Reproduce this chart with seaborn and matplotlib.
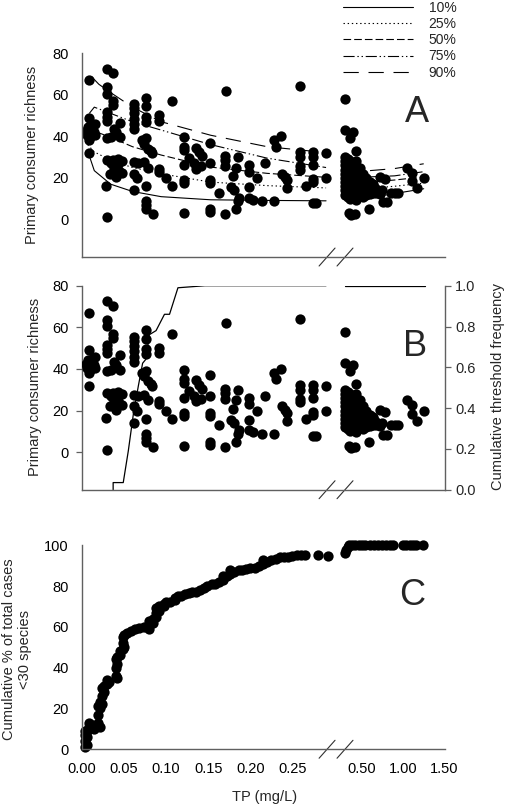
import numpy as np
import matplotlib
matplotlib.use("Agg")
import matplotlib.pyplot as plt
import seaborn as sns

# ---- scatter data (panels A and B share it): TP (mg/L) vs primary consumer richness
tp_pts = [0.008, 0.008, 0.007, 0.008, 0.006, 0.008, 0.008, 0.012, 0.011, 0.015, 0.014, 0.015, 0.005, 0.012,
          0.030, 0.037, 0.030, 0.030, 0.037, 0.037, 0.030, 0.030, 0.030, 0.045, 0.038, 0.034, 0.030, 0.045,
          0.040, 0.030, 0.037, 0.043, 0.034, 0.043, 0.047, 0.033, 0.040, 0.044, 0.047, 0.038, 0.028, 0.030,
          0.062, 0.062, 0.062, 0.062, 0.062, 0.062, 0.066, 0.062, 0.062, 0.065, 0.062, 0.076, 0.076, 0.076,
          0.076, 0.071, 0.074, 0.076, 0.079, 0.082, 0.083, 0.074, 0.078, 0.076, 0.076, 0.076, 0.076, 0.084,
          0.091, 0.091, 0.107, 0.092, 0.091, 0.100, 0.107, 0.121, 0.121, 0.121, 0.121, 0.121, 0.121, 0.121,
          0.127, 0.136, 0.139, 0.143, 0.133, 0.135, 0.141,
          0.152, 0.152, 0.152, 0.152, 0.152, 0.152, 0.171, 0.163, 0.170, 0.170, 0.170, 0.170, 0.179, 0.177,
          0.181, 0.185, 0.183, 0.187, 0.185, 0.183, 0.199, 0.199, 0.199, 0.199, 0.203, 0.208, 0.214, 0.218,
          0.228, 0.228, 0.230, 0.236, 0.238, 0.241, 0.243, 0.243, 0.259, 0.259, 0.259, 0.259, 0.259, 0.266,
          0.275, 0.275, 0.275, 0.275, 0.275, 0.275, 0.278, 0.290, 0.290,
          0.31, 0.31, 0.40, 0.37, 0.44, 0.35, 0.38, 0.42, 0.59, 0.73, 0.79, 0.67, 0.75, 0.76, 0.81, 0.86,
          0.90, 0.94, 1.05, 1.11, 1.11, 1.25, 1.17,
          0.31, 0.31, 0.31, 0.31, 0.31, 0.31, 0.31, 0.31, 0.31, 0.31,
          0.34, 0.34, 0.34, 0.34, 0.34, 0.34, 0.34, 0.34, 0.34, 0.34,
          0.37, 0.37, 0.37, 0.37, 0.37, 0.37, 0.37, 0.37, 0.37, 0.37,
          0.40, 0.40, 0.40, 0.40, 0.40, 0.40, 0.40, 0.40, 0.40,
          0.44, 0.44, 0.44, 0.44, 0.44, 0.44, 0.44, 0.44,
          0.48, 0.48, 0.48, 0.48, 0.48, 0.48,
          0.52, 0.52, 0.52, 0.52, 0.52,
          0.56, 0.56, 0.56, 0.56, 0.60, 0.60, 0.60, 0.64, 0.64, 0.68, 0.72]
rich_pts = [67, 49, 44.5, 42, 40.5, 38, 32, 43, 40, 46, 42, 40.5, 42.5, 45,
            72.5, 70.5, 63.5, 60.5, 57, 55, 51.5, 49.5, 47.5, 46.5, 43.5, 39.5, 39, 39.5,
            42, 28.5, 28.5, 29, 27, 26.5, 28, 22, 20.5, 23.5, 22.5, 25, 16.3, 1.2,
            55.5, 53.5, 51, 48.5, 46, 43.5, 27, 27.5, 22, 20, 14, 58.5, 54.5, 49.5,
            47, 38, 36.5, 39, 34, 33, 32, 27.5, 25, 16, 9, 7, 5, 2.5,
            50, 47.5, 57, 24.5, 23, 20, 16.2, 39.5, 35, 33.5, 26, 19, 17.5, 3,
            29.5, 34.5, 32.5, 30.5, 27, 24.5, 25.5,
            37, 27, 19, 17.5, 5, 3.5, 62, 13, 30.5, 28.5, 25.5, 2.5, 21, 15.5,
            14, 30, 25, 10.5, 9, 5, 26, 23, 15.5, 10.5, 9.5, 20, 9, 27,
            9, 38, 35, 40, 22, 20.5, 19, 15, 64, 32.5, 30, 25.5, 24, 16,
            32.5, 30, 26, 19.5, 18, 8, 8, 32, 20,
            58, 43, 42, 39, 33, 3, 2, 2.5, 5, 20.5, 19.5, 15, 14, 8.3, 8.3, 13,
            13, 13, 25, 22.5, 18.5, 20, 15,
            30, 28, 26, 24, 22, 20, 18, 16, 14, 12,
            29, 27, 25, 23, 21, 19, 17, 15, 13, 11,
            28, 26, 24, 22, 20, 18, 16, 14, 12, 10,
            27, 25, 23, 21, 19, 17, 15, 13, 11,
            28, 25, 22, 19, 16, 13, 11, 9.5,
            25, 23, 20, 17, 14, 12,
            22, 19, 16, 13, 11,
            20, 17, 14, 12, 18, 14, 12.5, 13, 17, 13, 12.5]

# ---- quantile curves (panel A), left and right of the axis break
q_labels = ["10%", "25%", "50%", "75%", "90%"]
q_tp_left = [[0.0067, 0.0146, 0.034, 0.06, 0.094, 0.153, 0.22, 0.29],
             [0.0067, 0.0146, 0.034, 0.06, 0.094, 0.153, 0.22, 0.29],
             [0.0067, 0.0146, 0.034, 0.06, 0.094, 0.153, 0.22, 0.29],
             [0.0087, 0.0146, 0.034, 0.06, 0.094, 0.153, 0.22, 0.29],
             [0.0115, 0.02, 0.034, 0.06, 0.094, 0.153, 0.22, 0.29]]
q_val_left = [[33, 23.5, 17, 13.5, 11, 9.5, 9.2, 9],
              [36, 32.5, 28.5, 25, 22, 18, 16.3, 15.2],
              [44.5, 42.5, 39.5, 35, 31, 25.2, 22.2, 20.3],
              [51, 54, 51, 47, 43, 36, 29.5, 25],
              [68.6, 65, 61, 54, 47, 40.5, 35, 32.2]]
q_tp_right = [0.305, 0.6, 0.9, 1.25]
q_val_right = [[9, 10.5, 12.5, 14.8],
               [14.5, 15, 16, 17.5],
               [18, 18, 19, 20.5],
               [21, 20.5, 21, 23],
               [24, 23.5, 24.5, 26.8]]

# ---- cumulative threshold frequency (panel B)
thr_tp_left = [0.037, 0.037, 0.049, 0.055, 0.061, 0.067, 0.072, 0.076, 0.080, 0.088, 0.098, 0.104,
               0.114, 0.130, 0.146, 0.290]
thr_freq_left = [0.0, 0.035, 0.035, 0.19, 0.37, 0.51, 0.62, 0.64, 0.76, 0.78, 0.86, 0.86,
                 0.99, 0.995, 1.0, 1.0]
thr_tp_right = [0.305, 1.26]
thr_freq_right = [1.0, 1.0]

# ---- cumulative % of cases with <30 species (panel C)
c_tp = [0.003, 0.003, 0.003, 0.003, 0.006, 0.006, 0.006, 0.008, 0.008, 0.012, 0.014, 0.014,
        0.019, 0.019, 0.019, 0.021, 0.021, 0.021, 0.024, 0.024, 0.024, 0.026, 0.026, 0.030, 0.030,
        0.032, 0.040, 0.040, 0.040, 0.042, 0.042, 0.042, 0.045, 0.045, 0.049, 0.049, 0.049,
        0.050, 0.050, 0.053, 0.058, 0.063, 0.068, 0.074, 0.080, 0.080, 0.080, 0.084, 0.084,
        0.088, 0.088, 0.088, 0.092, 0.092, 0.097, 0.097, 0.100, 0.105, 0.110, 0.110, 0.114,
        0.118, 0.122, 0.127, 0.131, 0.136, 0.140, 0.145, 0.149, 0.154, 0.158, 0.163, 0.168,
        0.168, 0.172, 0.176, 0.176, 0.181, 0.186, 0.190, 0.195, 0.200, 0.205, 0.210, 0.215,
        0.215, 0.220, 0.225, 0.230, 0.235, 0.240, 0.245, 0.250, 0.255, 0.260, 0.265, 0.280,
        0.292, 0.305, 0.32, 0.34, 0.355, 0.39, 0.43, 0.47, 0.51, 0.55, 0.60, 0.65, 0.70, 0.75,
        0.80, 0.85, 0.88, 1.00, 1.04, 1.08, 1.12, 1.16, 1.24]
c_pct = [1, 4, 7, 9, 2, 6, 9, 11, 13, 12, 10, 11,
         13, 17, 21, 11, 20, 23, 22, 26, 30, 28, 31, 32, 34,
         33, 36, 40, 44, 35, 42, 45, 46, 48, 49, 52, 55,
         50, 56, 57, 58, 59, 59.5, 60, 59, 61, 63, 62, 64,
         65, 67, 69, 68, 70, 70, 71, 72, 72, 73, 74, 75,
         75, 76, 76.5, 77, 77, 78, 79, 80, 81, 81, 82, 83,
         85, 85, 86, 88, 87, 88, 88, 88.5, 89, 89, 90, 91,
         93, 92, 93, 93.5, 94, 94, 94, 94.5, 95, 95, 95, 95,
         94.8, 96, 97.5, 99, 100, 100, 100, 100, 100, 100, 100, 100, 100, 100,
         100, 100, 100, 100, 100, 100, 100, 100, 100]

ab_ticks = [0, 0.076, 0.152, 0.228, 0.572, 1.032, 1.5]
c_ticks = [0, 0.05, 0.10, 0.15, 0.20, 0.25, 0.50, 1.00, 1.50]
c_ticklabels = ["0.00", "0.05", "0.10", "0.15", "0.20", "0.25", "0.50", "1.00", "1.50"]


# broken TP axis: 0-0.295 stretched, 0.305-1.5 compressed
_x_knots = [-1, 0, 0.295, 0.305, 1.5, 3]
_u_knots = [-842.7, 0, 248.6, 263.4, 363, 487.9]


def tp_fwd(x):
    return np.interp(x, _x_knots, _u_knots)


def tp_inv(u):
    return np.interp(u, _u_knots, _x_knots)


sns.set_theme(style="white")
plt.rcParams["font.family"] = ["Liberation Sans", "DejaVu Sans"]
plt.rcParams["lines.scale_dashes"] = False

AX_COL = "#606060"
FS = 10.5
styles = ["-", (0, (1, 2)), (0, (5.5, 2.2)), (0, (8, 2, 1, 2, 1, 2)), (0, (11, 7))]


def style_axis(ax):
    ax.set_xscale("function", functions=(tp_fwd, tp_inv))
    ax.set_xlim(0, 1.5)
    for s in ["top", "right"]:
        ax.spines[s].set_visible(False)
    for s in ["left", "bottom"]:
        ax.spines[s].set_color(AX_COL)
        ax.spines[s].set_linewidth(1)
    ax.tick_params(direction="out", length=4, width=0.9, color=AX_COL,
                   labelsize=FS, labelcolor="black", pad=5.5)
    # break marks
    for xc in [0.676, 0.7255]:
        ax.plot([xc - 0.022, xc + 0.022], [-0.044, 0.044], color="#303030", lw=0.8,
                transform=ax.transAxes, clip_on=False)


fig = plt.figure(figsize=(5.1, 8.06), dpi=100)
L, W, H = 0.1608, 0.7108, 0.2531
axA = fig.add_axes([L, 0.6811, W, H])
axB = fig.add_axes([L, 0.3924, W, H])
axC = fig.add_axes([L, 0.0704, W, H])

# ---- panel A
sns.scatterplot(x=tp_pts, y=rich_pts, ax=axA, color="black", s=55, linewidth=0, zorder=2)
handles = []
for i, lab in enumerate(q_labels):
    ln, = axA.plot(q_tp_left[i], q_val_left[i], color="black", lw=0.8, ls=styles[i], label=lab, zorder=3)
    axA.plot(q_tp_right, q_val_right[i], color="black", lw=0.8, ls=styles[i], zorder=3)
    handles.append(ln)
style_axis(axA)
axA.set_ylim(-18, 80)
axA.set_yticks([0, 20, 40, 60, 80])
axA.set_xticks(ab_ticks)
axA.set_xticklabels([])
axA.set_ylabel("Primary consumer richness", fontsize=FS, va="center")
axA.yaxis.set_label_coords(-0.139, 0.5)
axA.text(0.925, 0.71, "A", transform=axA.transAxes, fontsize=26, ha="center", va="center")
fig.legend(handles=handles, labels=q_labels, loc="upper left", bbox_to_anchor=(0.673, 0.999),
           frameon=False, fontsize=10, handlelength=5.0, handletextpad=1.15,
           labelspacing=0.16, borderpad=0, borderaxespad=0)

# ---- panel B
sns.scatterplot(x=tp_pts, y=rich_pts, ax=axB, color="black", s=55, linewidth=0, zorder=3)
style_axis(axB)
axB.set_ylim(-18, 80)
axB.set_yticks([0, 20, 40, 60, 80])
axB.set_xticks(ab_ticks)
axB.set_xticklabels([])
axB.set_ylabel("Primary consumer richness", fontsize=FS, va="center")
axB.yaxis.set_label_coords(-0.13, 0.505)
axB.text(0.92, 0.7, "B", transform=axB.transAxes, fontsize=26, ha="center", va="center")
axB2 = axB.twinx()
axB2.plot(thr_tp_left, thr_freq_left, color="black", lw=0.9)
axB2.plot(thr_tp_right, thr_freq_right, color="black", lw=0.9)
axB2.set_ylim(0, 1)
axB2.set_yticks([0, 0.2, 0.4, 0.6, 0.8, 1.0])
axB2.set_yticklabels(["0.0", "0.2", "0.4", "0.6", "0.8", "1.0"])
for s in ["top", "left", "bottom"]:
    axB2.spines[s].set_visible(False)
axB2.spines["right"].set_color(AX_COL)
axB2.spines["right"].set_linewidth(1)
axB2.tick_params(direction="out", length=4, width=0.9, color=AX_COL, labelsize=FS, pad=3.5)
axB2.set_ylabel("Cumulative threshold frequency", fontsize=FS, va="center")
axB2.yaxis.set_label_coords(1.147, 0.505)
axB.set_zorder(axB2.get_zorder() + 1)
axB.patch.set_visible(False)

# ---- panel C
sns.scatterplot(x=c_tp, y=c_pct, ax=axC, color="black", s=55, linewidth=0, clip_on=False)
style_axis(axC)
axC.set_ylim(0, 100)
axC.set_yticks([0, 20, 40, 60, 80, 100])
axC.set_xticks(c_ticks)
axC.set_xticklabels(c_ticklabels)
axC.set_ylabel("Cumulative % of total cases\n<30 species", fontsize=FS, va="center", linespacing=1.15)
axC.yaxis.set_label_coords(-0.18, 0.49)
axC.set_xlabel("TP (mg/L)", fontsize=FS, va="center")
axC.xaxis.set_label_coords(0.503, -0.232)
axC.text(0.91, 0.755, "C", transform=axC.transAxes, fontsize=26, ha="center", va="center")

fig.savefig("out.png", dpi=100)
